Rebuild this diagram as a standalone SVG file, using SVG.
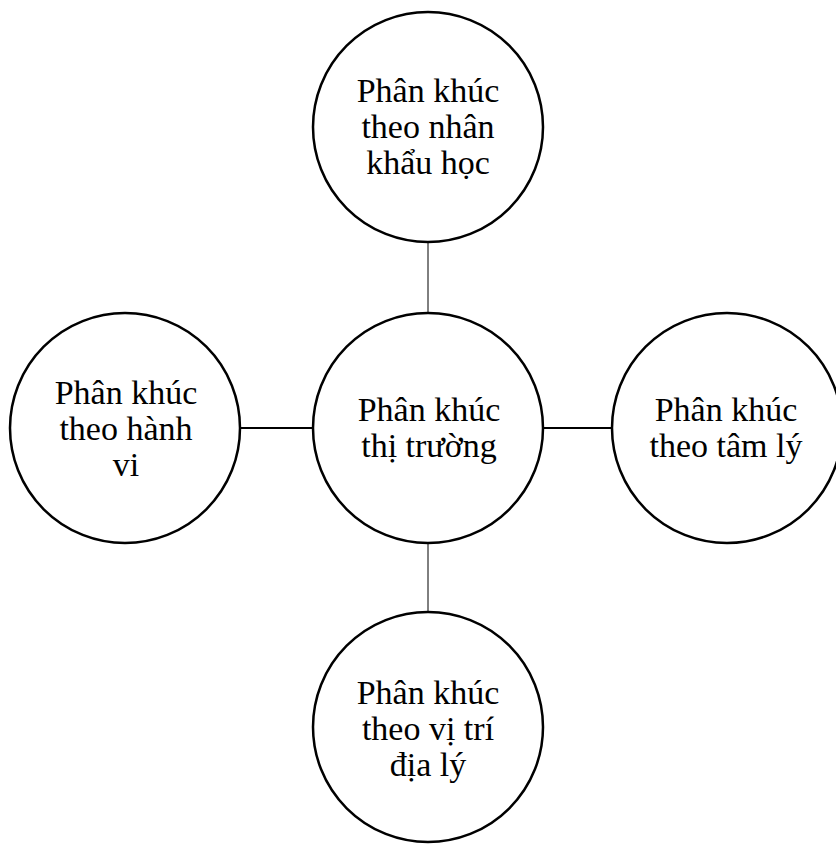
<svg xmlns="http://www.w3.org/2000/svg" width="836" height="844" viewBox="0 0 836 844">
  <style>
    .node { fill: #ffffff; stroke: #000000; stroke-width: 2.5; }
    .label { font-family: "Liberation Serif", "Times New Roman", serif; font-size: 34px; fill: #000000; text-anchor: middle; }
    .link { stroke: #000000; fill: none; }
  </style>
  <rect width="836" height="844" fill="#ffffff"/>

  <!-- connectors between the hub and the four segments -->
  <g id="connectors">
    <line class="link" x1="428" y1="242" x2="428" y2="313" stroke-width="1"/>
    <line class="link" x1="428" y1="543" x2="428" y2="613" stroke-width="1"/>
    <line class="link" x1="240" y1="428" x2="313" y2="428" stroke-width="2"/>
    <line class="link" x1="543" y1="428" x2="612" y2="428" stroke-width="2"/>
  </g>

  <g id="node-center">
    <circle class="node" cx="428" cy="428" r="115"/>
    <text class="label" x="429" y="421">Phân khúc</text>
    <text class="label" x="429" y="457">thị trường</text>
  </g>

  <g id="node-top">
    <circle class="node" cx="428" cy="127" r="115"/>
    <text class="label" x="428" y="102">Phân khúc</text>
    <text class="label" x="428" y="138">theo nhân</text>
    <text class="label" x="428" y="174">khẩu học</text>
  </g>

  <g id="node-left">
    <circle class="node" cx="125" cy="428" r="115"/>
    <text class="label" x="126" y="404">Phân khúc</text>
    <text class="label" x="126" y="440">theo hành</text>
    <text class="label" x="126" y="476">vi</text>
  </g>

  <g id="node-right">
    <circle class="node" cx="727" cy="428" r="115"/>
    <text class="label" x="726" y="421">Phân khúc</text>
    <text class="label" x="726" y="457">theo tâm lý</text>
  </g>

  <g id="node-bottom">
    <circle class="node" cx="428" cy="727" r="115"/>
    <text class="label" x="428" y="704">Phân khúc</text>
    <text class="label" x="428" y="740">theo vị trí</text>
    <text class="label" x="428" y="776">địa lý</text>
  </g>
</svg>
